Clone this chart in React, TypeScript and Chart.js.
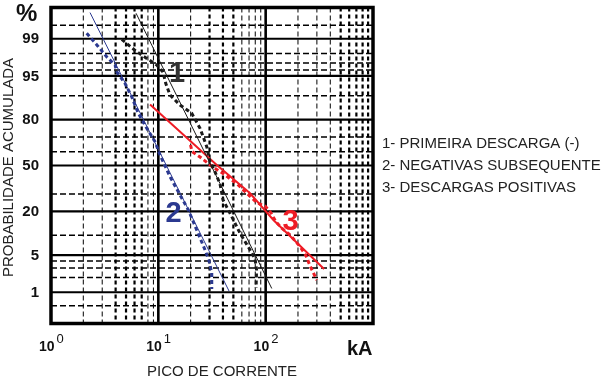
import { useEffect, useRef } from 'react';
import { Chart, registerables } from 'chart.js';

Chart.register(...registerables);

// ---- DATA (x: peak current in kA, y: cumulative probability in %) ----
const s1FitX = [6.2, 114];
const s1FitY = [99.74, 1.2];
const s1DataX = [4.56, 6.29, 9.67, 11.06, 11.72, 12.85, 15.93, 20.48, 24.47, 28.26, 30.33, 33.76, 37.58, 40.1, 48.3, 57.7, 71.6, 79.7, 82.3, 81.4];
const s1DataY = [98.97, 98.16, 96.74, 95.69, 93.42, 90.22, 86.65, 83.1, 75.27, 63.5, 52.55, 45.26, 36.73, 26.34, 17.39, 10.67, 6.06, 4.31, 2.76, 1.23];

const s2FitX = [2.31, 45.6];
const s2FitY = [99.75, 1.06];
const s2DataX = [2.15, 2.76, 3.3, 3.95, 4.12, 4.89, 5.65, 6.51, 7.8, 9.32, 10.37, 12.85, 15.93, 19.04, 24.47, 27.24, 29.69, 31.46, 31.46];
const s2DataY = [99.24, 98.54, 97.7, 96.74, 95.69, 93.42, 89.65, 83.1, 75.27, 66.9, 57.65, 41.84, 29.43, 20.7, 9.18, 6.06, 3.99, 2.43, 1.17];

const s3FitX = [8.37, 35.03, 71.55, 118, 350];
const s3FitY = [86.85, 50.4, 30.5, 15.87, 2.88];
const s3DataX = [19.95, 20.61, 24.47, 31.66, 40.09, 54.15, 67.08, 83.17, 98.72, 112.3, 125.0, 142.2, 168.8, 209.2, 238.0, 259.3, 299.4];
const s3DataY = [64.65, 60.14, 56.2, 49.28, 44.16, 36.73, 30.36, 24.57, 22.87, 19.16, 14.99, 12.38, 10.11, 6.81, 4.84, 3.26, 1.78];

// ---- TICKS / LABELS ----
const yLabelTicks = [1, 5, 20, 50, 80, 95, 99];
const yMinorTicks = [0.5, 2, 3, 4, 10, 30, 60, 70, 90, 96, 97, 98, 99.5];
const xMajorTicks = [10, 100];
const xThinTicks = [2, 3, 8, 9, 20, 60, 70, 80, 90, 200, 300, 400];
const xThickTicks = [4, 5, 6, 7, 30, 40, 50, 500, 600, 700, 800, 900];
const xTickExponents = [0, 1, 2];
const legendLines = ['1- PRIMEIRA DESCARGA (-)', '2- NEGATIVAS SUBSEQUENTE', '3- DESCARGAS POSITIVAS'];
const seriesLabels = ['1', '2', '3'];
const yTitle = 'PROBABILIDADE ACUMULADA';
const xTitle = 'PICO DE CORRENTE';
const xUnit = 'kA';
const yUnit = '%';

const BLACK = '#1a1a1a';
const BLUE = '#2B3990';
const RED = '#EE1C25';
const FONT = '"Liberation Sans", Arial, sans-serif';

// inverse standard normal CDF (probability-paper axis transform)
function probit(p: number): number {
  const a = [-3.969683028665376e1, 2.209460984245205e2, -2.759285104469687e2, 1.38357751867269e2, -3.066479806614716e1, 2.506628277459239];
  const b = [-5.447609879822406e1, 1.615858368580409e2, -1.556989798598866e2, 6.680131188771972e1, -1.328068155288572e1];
  const c = [-7.784894002430293e-3, -3.223964580411365e-1, -2.400758277161838, -2.549732539343734, 4.374664141464968, 2.938163982698783];
  const d = [7.784695709041462e-3, 3.224671290700398e-1, 2.445134137142996, 3.754408661907416];
  const pl = 0.02425;
  if (p < pl) {
    const q = Math.sqrt(-2 * Math.log(p));
    return (((((c[0] * q + c[1]) * q + c[2]) * q + c[3]) * q + c[4]) * q + c[5]) / ((((d[0] * q + d[1]) * q + d[2]) * q + d[3]) * q + 1);
  }
  if (p > 1 - pl) {
    const q = Math.sqrt(-2 * Math.log(1 - p));
    return -(((((c[0] * q + c[1]) * q + c[2]) * q + c[3]) * q + c[4]) * q + c[5]) / ((((d[0] * q + d[1]) * q + d[2]) * q + d[3]) * q + 1);
  }
  const q = p - 0.5;
  const r = q * q;
  return ((((((a[0] * r + a[1]) * r + a[2]) * r + a[3]) * r + a[4]) * r + a[5]) * q) / (((((b[0] * r + b[1]) * r + b[2]) * r + b[3]) * r + b[4]) * r + 1);
}

const z = (pct: number) => probit(pct / 100);
const pts = (xs: number[], ys: number[]) => xs.map((x, i) => ({ x, y: z(ys[i]) }));

const gridPlugin = {
  id: 'probGrid',
  beforeDatasetsDraw(chart: any) {
    const { ctx, chartArea: a, scales } = chart;
    const x = scales.x;
    const y = scales.y;
    ctx.save();
    ctx.strokeStyle = '#000';
    ctx.lineCap = 'butt';
    const hline = (p: number, w: number, dash: number[]) => {
      const py = y.getPixelForValue(z(p));
      ctx.lineWidth = w;
      ctx.setLineDash(dash);
      ctx.beginPath();
      ctx.moveTo(a.left, py);
      ctx.lineTo(a.right, py);
      ctx.stroke();
    };
    const vline = (v: number, w: number, dash: number[]) => {
      const px = x.getPixelForValue(v);
      ctx.lineWidth = w;
      ctx.setLineDash(dash);
      ctx.beginPath();
      ctx.moveTo(px, a.top);
      ctx.lineTo(px, a.bottom);
      ctx.stroke();
    };
    yMinorTicks.forEach((p) => hline(p, 1.5, [6, 3]));
    xThinTicks.forEach((v) => vline(v, 1, [5, 3]));
    xThickTicks.forEach((v) => vline(v, 2.2, [4, 3]));
    yLabelTicks.forEach((p) => hline(p, 2.2, []));
    xMajorTicks.forEach((v) => vline(v, 2.6, []));
    ctx.restore();
  },
  afterDatasetsDraw(chart: any) {
    const { ctx, chartArea: a } = chart;
    ctx.save();
    ctx.strokeStyle = '#000';
    ctx.lineWidth = 3.5;
    ctx.setLineDash([]);
    ctx.strokeRect(a.left, a.top, a.right - a.left, a.bottom - a.top);
    ctx.restore();
  },
  afterDraw(chart: any) {
    const { ctx, scales } = chart;
    const x = scales.x;
    const y = scales.y;
    ctx.save();
    ctx.fillStyle = '#111';
    // y tick labels
    ctx.font = `bold 15px ${FONT}`;
    ctx.textAlign = 'right';
    ctx.textBaseline = 'middle';
    yLabelTicks.forEach((p) => {
      ctx.fillText(String(p), 39, y.getPixelForValue(z(p)) + 0.5);
    });
    // x tick labels 10^n
    ctx.textBaseline = 'alphabetic';
    xTickExponents.forEach((e) => {
      const px = x.getPixelForValue(Math.pow(10, e));
      ctx.font = `bold 14px ${FONT}`;
      ctx.textAlign = 'right';
      ctx.fillText('10', px + 3.5, 351);
      ctx.font = `13px ${FONT}`;
      ctx.textAlign = 'left';
      ctx.fillText(String(e), px + 5.5, 343);
    });
    // units
    ctx.font = `bold 20px ${FONT}`;
    ctx.textAlign = 'left';
    ctx.fillText(xUnit, 347, 355);
    ctx.font = `bold 24px ${FONT}`;
    ctx.fillText(yUnit, 16, 21);
    // titles
    ctx.font = `15px ${FONT}`;
    ctx.fillStyle = '#222';
    ctx.fillText(xTitle, 147, 376);
    ctx.save();
    ctx.translate(12.5, 167.5);
    ctx.rotate(-Math.PI / 2);
    ctx.textAlign = 'center';
    ctx.fillText(yTitle, 0, 0);
    ctx.restore();
    // legend text
    ctx.font = `15px ${FONT}`;
    ctx.textAlign = 'left';
    legendLines.forEach((t, i) => ctx.fillText(t, 382, 148 + i * 22));
    // series labels
    ctx.font = `bold 29px ${FONT}`;
    ctx.textAlign = 'center';
    ctx.fillStyle = '#333';
    ctx.fillText(seriesLabels[0], 177, 82);
    ctx.fillStyle = BLUE;
    ctx.fillText(seriesLabels[1], 173.5, 222);
    ctx.fillStyle = RED;
    ctx.fillText(seriesLabels[2], 290.5, 230);
    ctx.restore();
  },
};

export default function App() {
  const ref = useRef<HTMLCanvasElement | null>(null);
  useEffect(() => {
    if (!ref.current) return;
    const base = { pointRadius: 0, fill: false, tension: 0, borderCapStyle: 'butt' as const };
    const chart = new Chart(ref.current, {
      type: 'line',
      data: {
        datasets: [
          { ...base, data: pts(s1FitX, s1FitY), borderColor: BLACK, borderWidth: 1 },
          { ...base, data: pts(s1DataX, s1DataY), borderColor: BLACK, borderWidth: 3, borderDash: [4, 3] },
          { ...base, data: pts(s2FitX, s2FitY), borderColor: BLUE, borderWidth: 1 },
          { ...base, data: pts(s2DataX, s2DataY), borderColor: BLUE, borderWidth: 3, borderDash: [4, 3] },
          { ...base, data: pts(s3FitX, s3FitY), borderColor: RED, borderWidth: 2 },
          { ...base, data: pts(s3DataX, s3DataY), borderColor: RED, borderWidth: 3, borderDash: [4, 3] },
        ],
      },
      options: {
        animation: false,
        responsive: false,
        devicePixelRatio: 1,
        layout: { padding: { left: 51, top: 7.5, right: 231, bottom: 53.5 } },
        plugins: { legend: { display: false }, tooltip: { enabled: false }, title: { display: false } },
        scales: {
          x: { type: 'logarithmic', min: 1, max: 1000, display: false },
          y: { type: 'linear', min: -2.9, max: 2.9, display: false },
        },
      },
      plugins: [gridPlugin],
    });
    return () => chart.destroy();
  }, []);
  return (
    <div style={{ position: 'absolute', left: 0, top: 0, width: 604, height: 377, background: '#fff' }}>
      <canvas ref={ref} width={604} height={377} style={{ display: 'block' }} />
    </div>
  );
}
